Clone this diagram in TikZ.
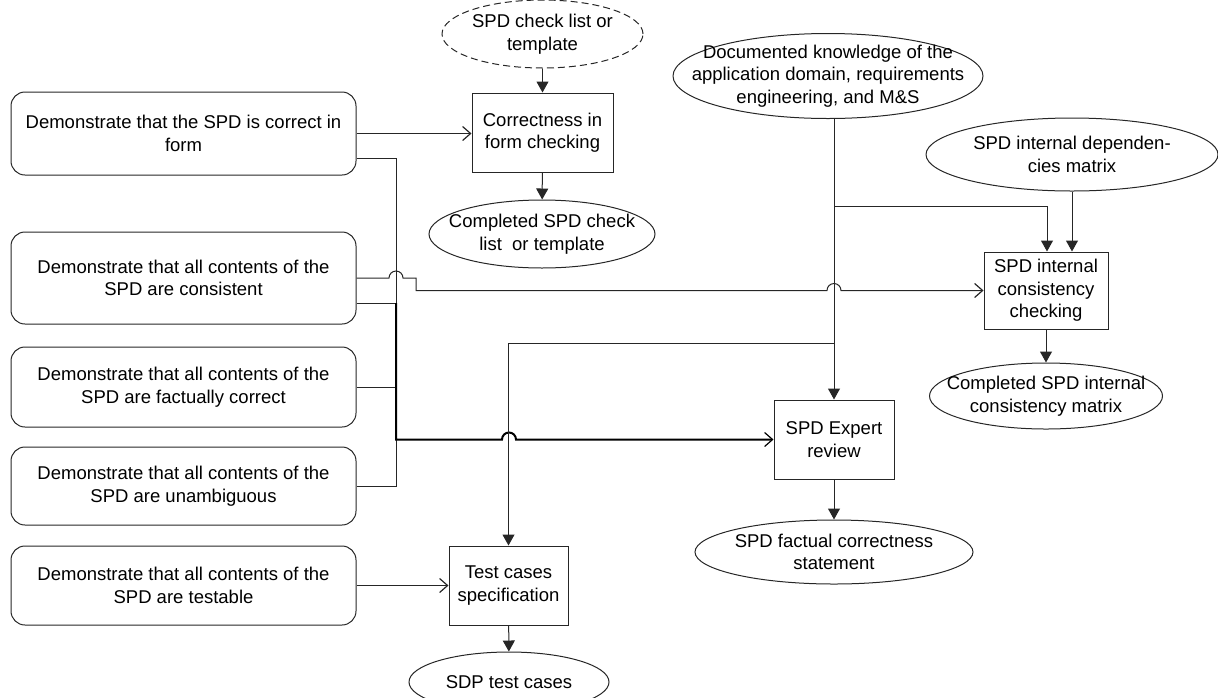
\documentclass[tikz,border=0pt]{standalone}
\usepackage{fontspec}
\setmainfont{Liberation Sans}
\usetikzlibrary{shapes.geometric,arrows.meta}
\begin{document}
\begin{tikzpicture}[x=1pt,y=-1pt,
  every node/.style={font=\fontsize{18.5pt}{22.5pt}\selectfont, align=center, inner sep=0pt},
  wire/.style={draw=black!85, line width=1pt},
  heavy/.style={draw=black, line width=2pt},
  goal/.style={wire, rounded corners=14pt, minimum width=345pt},
  proc/.style={wire, rectangle},
  blob/.style={wire, ellipse},
  blobtext/.style={label={center:#1}},
  fill tip/.style={-{Triangle[length=11pt,width=12pt]}},
  open tip/.style={-{Straight Barb[length=8pt,width=14pt,line width=1.2pt]}},
]
\useasboundingbox (0,0) rectangle (1218,697);
\clip (0,0) rectangle (1218,697);

% goals on the left
\node[goal, minimum height=83pt] (b1) at (183.5,133.5) {Demonstrate that the SPD is correct in\\form};
\node[goal, minimum height=92pt] (b2) at (183.5,278) {Demonstrate that all contents of the\\SPD are consistent};
\node[goal, minimum height=80pt] (b3) at (183.5,387) {Demonstrate that all contents of the\\SPD are factually correct};
\node[goal, minimum height=78pt] (b4) at (183.5,486) {Demonstrate that all contents of the\\SPD are unambiguous};
\node[goal, minimum height=79pt] (b5) at (183.5,585.5) {Demonstrate that all contents of the\\SPD are testable};

% activities
\node[proc, minimum width=141pt, minimum height=79pt] (corr) at (542.5,132.5) {Correctness in\\form checking};
\node[proc, minimum width=124pt, minimum height=77pt] (cons) at (1046,290.5) {SPD internal\\consistency\\checking};
\node[proc, minimum width=120pt, minimum height=79pt] (expert) at (834,439.5) {SPD Expert\\review};
\node[proc, minimum width=119pt, minimum height=79pt] (test) at (508.5,585.5) {Test cases\\specification};

% inputs and products (outline sized independently of the text)
\node[blob, dash pattern=on 7pt off 4pt, minimum width=201pt, minimum height=68pt,
  blobtext={SPD check list or\\template}] (tmpl) at (542.5,34) {};
\node[blob, minimum width=226pt, minimum height=68pt,
  blobtext={Completed SPD check\\list\ \ or template}] (cchk) at (542,234) {};
\node[blob, minimum width=310pt, minimum height=85pt,
  blobtext={Documented knowledge of the\\application domain, requirements\\engineering, and M\&S}] (know) at (828,76) {};
\node[blob, minimum width=292pt, minimum height=73pt,
  blobtext={SPD internal dependen-\\cies matrix}] (deps) at (1072,154.5) {};
\node[blob, minimum width=233pt, minimum height=66pt,
  blobtext={Completed SPD internal\\consistency matrix}] (ccons) at (1046,396) {};
\node[blob, minimum width=278pt, minimum height=64pt,
  blobtext={SPD factual correctness\\statement}] (fact) at (834,552) {};
\node[blob, minimum width=200pt, minimum height=60pt,
  blobtext={SDP test cases}] (tcs) at (509,682) {};

% junction points
\coordinate (bustop) at (396,303);
\coordinate (busbot) at (396,439.5);
\coordinate (kcons) at (834,206);
\coordinate (ktest) at (834,343);

% form checking
\draw[wire, fill tip] (tmpl) -- (corr);
\draw[wire, open tip] (b1.east) -- (corr.west |- b1.east);
\draw[wire, fill tip] (corr) -- (cchk);

% consistency checking
\draw[wire, open tip] (b2.east) -- (389,278) arc[start angle=180,end angle=0,radius=7pt]
  -- (416,278) -- (416,290.5) -- (827,290.5) arc[start angle=180,end angle=0,radius=7pt] -- (cons.west);
\draw[wire, fill tip] (kcons) -| ([xshift=1pt]cons.north);
\draw[wire, fill tip] (deps.south) -- (deps.south |- cons.north);
\draw[wire, fill tip] (cons) -- (ccons);

% expert review
\draw[wire, fill tip] (expert.north |- know.south) -- (expert.north);
\draw[wire] ([yshift=-25pt]b1.east) -| (bustop);
\draw[wire] ([yshift=-25pt]b2.east) -- (bustop);
\draw[wire] (b3.east) -- (b3.east -| bustop);
\draw[wire] (b4.east) -| (busbot);
\draw[heavy, open tip] (bustop) -- (busbot) -- (502,439.5) arc[start angle=180,end angle=0,radius=7pt] -- (expert.west);
\draw[wire, fill tip] (expert) -- (fact);

% test cases
\draw[wire, fill tip] (ktest) -| (test.north);
\draw[wire, open tip] (b5.east) -- (test.west);
\draw[wire, fill tip] (test) -- (tcs);
\end{tikzpicture}
\end{document}
